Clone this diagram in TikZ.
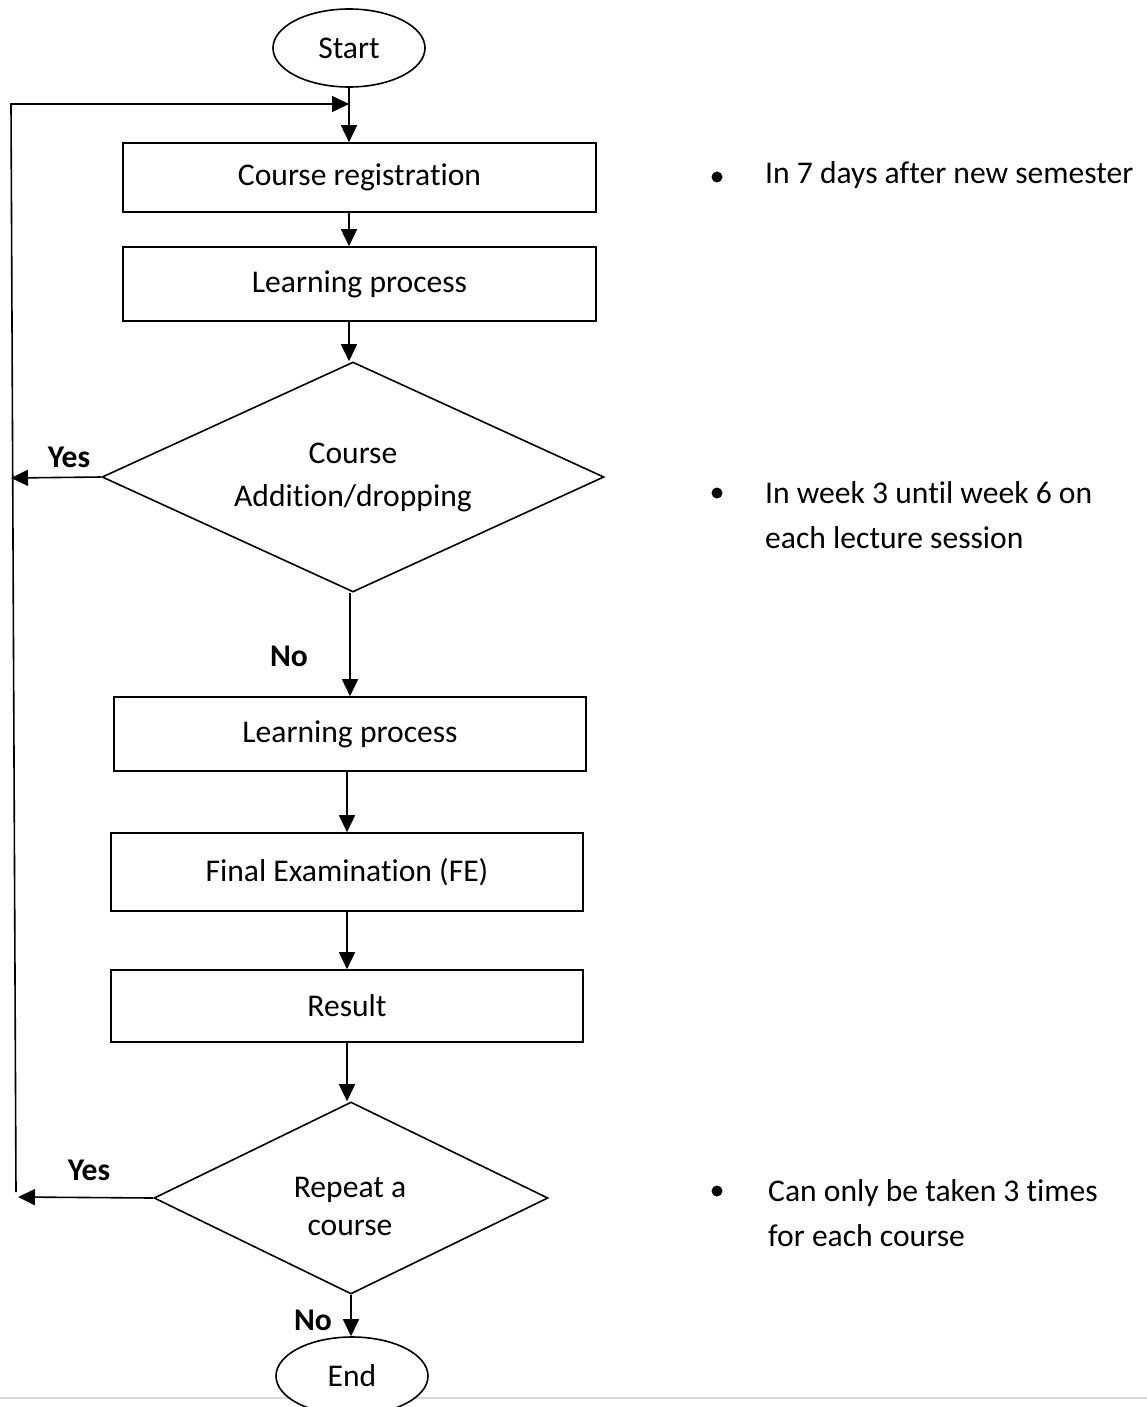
\documentclass[tikz,border=0pt]{standalone}
\usepackage{fontspec}
\setmainfont{Carlito}[Ligatures={NoCommon,NoRequired,NoContextual},Contextuals=NoAlternate,RawFeature={-liga;-clig;-calt;-dlig;-rlig}]
\usetikzlibrary{shapes.geometric,arrows.meta}
\begin{document}
\begin{tikzpicture}[x=1pt,y=-1pt,
  every node/.style={font=\fontsize{31.6}{43}\selectfont, inner sep=0pt},
  procbox/.style={draw, line width=1.6pt, rectangle},
  term/.style={draw, line width=1.6pt, ellipse, fill=white, minimum width=152pt, minimum height=78pt},
  decide/.style={draw, line width=1.6pt, diamond, align=center},
  arr/.style={line width=1.6pt, -{Triangle[length=17pt,width=16pt]}},
  lbl/.style={font=\fontsize{31.6}{43}\selectfont\bfseries},
  note/.style={anchor=west, align=left, font=\fontsize{31.6}{45}\selectfont},
  dot/.style={circle, fill=black, minimum size=11pt}
]
\useasboundingbox (0,0) rectangle (1147,1407);
\fill[white] (0,0) rectangle (1147,1407);
\draw[black!15, line width=2.5pt] (0,1398) -- (1147,1398);

% nodes
\node[term] (start) at (349,48) {Start};
\node[procbox, minimum width=473pt, minimum height=69pt] (b1) at (359.5,177.5) {Course registration};
\node[procbox, minimum width=473pt, minimum height=74pt] (b2) at (359.5,284) {Learning process};
\node[decide, shape aspect=2.2, minimum width=502pt, minimum height=230pt] (d1) at (353,477) {Course\\Addition/dropping};
\node[procbox, minimum width=472pt, minimum height=74pt] (b3) at (350,734) {Learning process};
\node[procbox, minimum width=472pt, minimum height=78pt] (b4) at (347,872) {Final Examination (FE)};
\node[procbox, minimum width=472pt, minimum height=72pt] (b5) at (347,1006) {Result};
\node[decide, shape aspect=2.05, minimum width=394pt, minimum height=192pt] (d2) at (351,1198) {};
\node[align=center, font=\fontsize{31.6}{38}\selectfont] (d2t) at (350,1206) {Repeat a\\course};
\node[term] (end) at (352,1376) {End};

% labels
\node[lbl] (yes1) at (69,457) {Yes};
\node[lbl] (no1) at (289,656) {No};
\node[lbl] (yes2) at (89,1170) {Yes};
\node[lbl] (no2) at (313,1320) {No};

% loop coordinates
\coordinate (loopbot) at (16,1192);
\coordinate (looptop) at (11,104);
\coordinate (join) at (349,104);
\coordinate (yesend1) at (11,478);
\coordinate (yesend2) at (18,1197);

% connectors
\draw[arr] (start.south) -- (b1.north -| start.south);
\draw[line width=1.6pt] (loopbot) -- (looptop) -- (join);
\draw[arr] (looptop) -- (join);
\draw[arr] (b1.south -| start.south) -- (b2.north -| start.south);
\draw[arr] (b2.south -| start.south) -- (d1.north -| start.south);
\draw[arr] (d1.west) -- (yesend1);
\draw[arr] (d1.south -| b3.center) -- (b3.north);
\draw[arr] (b3.south -| b4.center) -- (b4.north);
\draw[arr] (b4.south) -- (b5.north);
\draw[arr] (b5.south) -- (d2.north -| b5.center);
\draw[arr] (d2.west) -- (yesend2);
\draw[arr] (d2.south) -- (end.north -| d2.south);

% notes
\node[dot] (bul1) at (717,177) {};
\node[note] (n1) at (765,175) {In 7 days after new semester};
\node[dot] (bul2) at (717,493) {};
\node[note, anchor=north west] (n2) at (765,481) {In week 3 until week 6 on\\each lecture session};
\node[dot] (bul3) at (717,1191) {};
\node[note, anchor=north west] (n3) at (768,1179) {Can only be taken 3 times\\for each course};
\end{tikzpicture}
\end{document}
